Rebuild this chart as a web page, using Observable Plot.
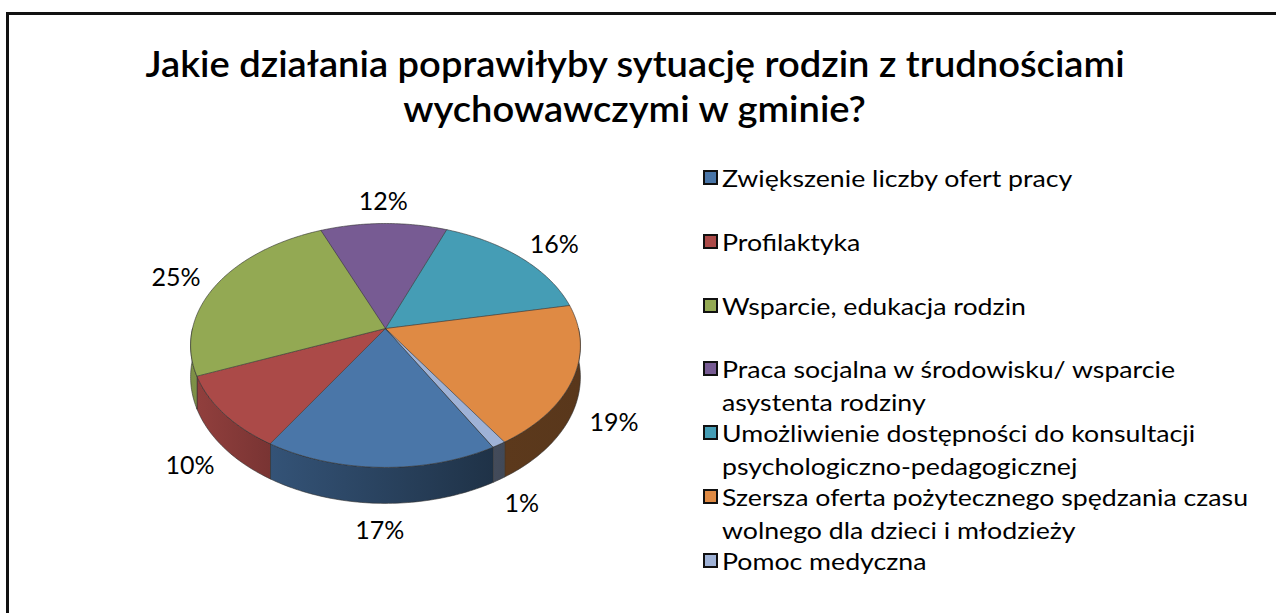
<!DOCTYPE html>
<html><head><meta charset="utf-8">
<script src="https://cdn.jsdelivr.net/npm/d3@7"></script>
<script src="https://cdn.jsdelivr.net/npm/@observablehq/plot@0.6"></script>
<style>
html,body{margin:0;background:#fff;overflow:hidden;}
#page{position:relative;width:1278px;height:613px;overflow:hidden;background:#fff;font-family:Lato,"Open Sans",sans-serif;color:#000;}
#hline{position:absolute;left:6px;top:12px;width:1270px;height:2.5px;background:#111;}
#vline{position:absolute;left:6px;top:12px;width:2.5px;height:601px;background:#111;}
#title{position:absolute;left:100px;width:1070px;top:40px;text-align:center;font-weight:600;font-size:37px;line-height:45px;}
#title span{display:inline-block;white-space:nowrap;}
#chart{position:absolute;left:0;top:0;width:690px;height:613px;}
.leg{position:absolute;left:703px;width:560px;height:70px;font-size:24px;line-height:32px;}
.sw{position:absolute;left:0;top:8px;width:11px;height:11px;border:2px solid #111;}
.lt{position:absolute;left:19px;white-space:nowrap;transform-origin:0 50%;}
</style></head>
<body><div id="page"><div id="hline"></div><div id="vline"></div><div id="title"></div><div id="chart"></div><div id="legend"></div></div>
<script>
// ---- data ----
const titleLines = ["Jakie działania poprawiłyby sytuację rodzin z trudnościami", "wychowawczymi w gminie?"];
const categories = [
  "Zwiększenie liczby ofert pracy",
  "Profilaktyka",
  "Wsparcie, edukacja rodzin",
  "Praca socjalna w środowisku/ wsparcie asystenta rodziny",
  "Umożliwienie dostępności do konsultacji psychologiczno-pedagogicznej",
  "Szersza oferta pożytecznego spędzania czasu wolnego dla dzieci i młodzieży",
  "Pomoc medyczna"
];
const values = [17, 10, 25, 12, 16, 19, 1];
const colors = ["#4a76a8", "#ab4a48", "#93a953", "#775b93", "#459db5", "#df8a44", "#9fb2d6"];

// ---- layout / 3D settings ----
const firstSliceAngle = 150.6;   // degrees, clockwise from the far side
const K = -0.139;                // perspective
const DEPTH = 0.259;             // pie thickness in y units
const CX = 385, CY = 328, RX = 193, RY = 119.6;
const TITLE_W = 980, LEGEND_W0 = 351, LEGEND_MAX = 540;

const ctx = document.createElement("canvas").getContext("2d");

// title, stretched to the reference width
ctx.font = "600 37px Lato";
const tScale = TITLE_W / ctx.measureText(titleLines[0]).width;
document.getElementById("title").innerHTML =
  titleLines.map(t => `<span style="transform:scaleX(${tScale})">${t}</span>`).join("<br>");

const total = d3.sum(values);
let acc = firstSliceAngle;
const slices = values.map((v, i) => {
  const a0 = acc; acc += v / total * 360;
  return {i, a0, a1: acc, mid: (a0 + acc) / 2, label: v + "%", color: colors[i]};
});

function proj(deg, r, dz) {
  const t = deg * Math.PI / 180;
  const u = r * Math.sin(t), v = -r * Math.cos(t);
  const w = 1 + K * v;
  return [u / w, (v + dz) / w];
}
function arc(a0, a1, dz) {
  const n = Math.max(2, Math.ceil(Math.abs(a1 - a0)));
  return d3.range(n + 1).map(j => proj(a0 + (a1 - a0) * j / n, 1, dz));
}
function shade(deg) {
  const p = ((deg % 360) + 360) % 360;
  let t = Math.min(1, Math.max(0, (p - 135) / 125));
  t = t * t * (3 - 2 * t);
  return 0.40 + 0.46 * t;
}
function mul(c, f) { const r = d3.rgb(c); return d3.rgb(r.r * f, r.g * f, r.b * f).formatHex(); }

// side faces (visible near half), each with a horizontal gradient
const near = [[90, 270], [450, 630]];
const sides = [], grads = [];
slices.forEach(s => {
  near.forEach(([n0, n1]) => {
    const lo = Math.max(s.a0, n0), hi = Math.min(s.a1, n1);
    if (hi <= lo) return;
    const id = `g${s.i}-${grads.length}`;
    grads.push({id, left: mul(s.color, shade(hi)), right: mul(s.color, shade(lo))});
    [...arc(lo, hi, 0), ...arc(hi, lo, DEPTH)].forEach(([X, Y]) => sides.push({key: id, X, Y, col: `url(#${id})`}));
  });
});

// top faces
const tops = [];
slices.forEach(s => {
  const key = "t" + s.i;
  tops.push({key, X: 0, Y: 0, col: s.color});
  arc(s.a0, s.a1, 0).forEach(([X, Y]) => tops.push({key, X, Y, col: s.color}));
});

// labels (outside end)
const labels = slices.map(s => {
  const t = s.mid * Math.PI / 180;
  const dx = Math.sin(t), dy = -Math.cos(t);
  const [X, Y] = proj(s.mid, 1, dy > 0 ? DEPTH : 0);
  return {X: X + dx * 44 / RX, Y: Y + (dy * 25 + 3) / RY, label: s.label};
});

const defsMark = () => {
  const defs = d3.create("svg:defs");
  grads.forEach(g => {
    const lg = defs.append("linearGradient").attr("id", g.id)
      .attr("x1", 0).attr("x2", 1).attr("y1", 0).attr("y2", 0);
    lg.append("stop").attr("offset", 0).attr("stop-color", g.left);
    lg.append("stop").attr("offset", 1).attr("stop-color", g.right);
  });
  return defs.node();
};

const chart = Plot.plot({
  width: 690, height: 613,
  style: {background: "transparent"},
  x: {domain: [-1, 1], range: [CX - RX, CX + RX], axis: null},
  y: {domain: [-1, 1], range: [CY - RY, CY + RY], axis: null},
  color: {type: "identity"},
  marks: [
    defsMark,
    Plot.line(sides, {x: "X", y: "Y", z: "key", fill: "col", stroke: "#303030", strokeWidth: 0.6, curve: "linear-closed", strokeLinejoin: "round"}),
    Plot.line(tops, {x: "X", y: "Y", z: "key", fill: "col", stroke: "#303030", strokeWidth: 0.6, curve: "linear-closed", strokeLinejoin: "round"}),
    Plot.text(labels, {x: "X", y: "Y", text: "label", fontSize: 25, fontFamily: "Lato", fill: "#000"})
  ]
});
document.getElementById("chart").appendChild(chart);

// legend
ctx.font = "24px Lato";
const lScale = LEGEND_W0 / ctx.measureText(categories[0]).width;
function wrap(text, maxW) {
  const words = text.split(" "); const lines = []; let cur = "";
  words.forEach(w => {
    const t = cur ? cur + " " + w : w;
    if (cur && ctx.measureText(t).width * lScale > maxW) { lines.push(cur); cur = w; } else cur = t;
  });
  lines.push(cur); return lines;
}
const legendTop = 178, legendStep = 63.8, lineStep = 33;
const leg = document.getElementById("legend");
categories.forEach((c, i) => {
  const lines = wrap(c, LEGEND_MAX);
  const d = document.createElement("div");
  d.className = "leg";
  d.style.top = (legendTop + i * legendStep - 16) + "px";
  let h = `<div class="sw" style="background:${colors[i]}"></div>`;
  lines.forEach((l, j) => { h += `<div class="lt" style="top:${j * lineStep}px;transform:scaleX(${lScale})">${l}</div>`; });
  d.innerHTML = h;
  leg.appendChild(d);
});
</script>
</body></html>
